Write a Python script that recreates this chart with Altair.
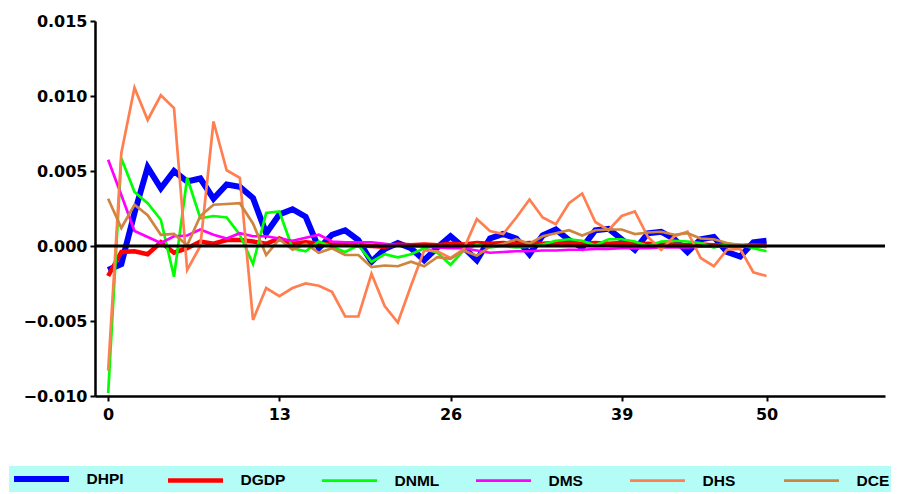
import altair as alt
import pandas as pd

steps = list(range(51))
series_names = ["DHPI", "DGDP", "DNML", "DMS", "DHS", "DCE"]
series_colors = ["#0000ff", "#ff0000", "#00ff00", "#ff00ff", "#ff7f50", "#cd853f"]
series_widths = [6, 4.5, 2.7, 2.7, 2.7, 2.7]

dhpi = [-0.0016, -0.0012, 0.0022, 0.00525, 0.00385, 0.0050, 0.0043, 0.0045, 0.00315, 0.0041,
        0.00395, 0.0032, 0.00085, 0.0021, 0.00245, 0.00195, -0.00015, 0.00075, 0.00105, 0.0004,
        -0.00105, -0.0002, 0.0002, -0.00015, -0.00095, -0.0001, 0.00065, -0.0001, -0.00095, 0.0005,
        0.0008, 0.0005, -0.00055, 0.0007, 0.0011, 0.0004, -0.0001, 0.00105, 0.00115, 0.00045,
        -0.00025, 0.00085, 0.00095, 0.00045, -0.0004, 0.00045, 0.0006, -0.0004, -0.0007, 0.00025,
        0.00035]
dgdp = [-0.0020, -0.0004, -0.00035, -0.00055, 0.00025, -0.00045, -0.00015, 0.0003, 0.00015, 0.0004,
        0.0004, 0.0003, 0.00015, 0.0005, 0.00015, 0.00025, 0.00015, 0.0001, 0.0001, 0.00005,
        0.0, -0.00005, 0.0001, 0.00005, 0.0001, 0.00005, 0.00015, 0.0001, 0.0002, 0.00015,
        0.0002, 0.00015, 0.0002, 0.00015, 0.0002, 0.0002, 0.00015, 0.0002, 0.00015, 0.0002,
        0.0001, 0.00015, 0.0001, 0.0001, 0.00005, 0.0001, 0.00005, 0.00005, 0.0, 0.00005,
        0.0]
dnml = [-0.0098, 0.00585, 0.0036, 0.00285, 0.00175, -0.00205, 0.00455, 0.00185, 0.0020, 0.0019,
        0.00075, -0.0012, 0.0022, 0.0023, -0.00015, -0.00035, 0.0003, -0.00005, -0.0004, 0.00005,
        -0.00105, -0.00055, -0.00075, -0.00055, -0.00015, -0.00045, -0.00125, -0.0003, 0.0001, -0.0001,
        0.0, -0.0001, -0.00005, 0.0001, 0.00035, 0.00045, 0.00035, 0.00005, 0.00045, 0.00045,
        0.0003, 0.0, 0.0003, 0.00035, 0.0003, 0.0002, -0.0001, 0.00015, 0.0001, -0.00015,
        -0.00035]
dms = [0.00575, 0.0034, 0.0010, 0.0006, 0.0002, 0.00065, 0.0007, 0.0011, 0.00075, 0.0005,
       0.00085, 0.00065, 0.00065, 0.0005, 0.00035, 0.00055, 0.00075, 0.0003, 0.00025, 0.00025,
       0.00025, 0.00015, 0.00005, 0.0, -0.00005, -0.0001, -0.00015, -0.00015, -0.0003, -0.00045,
       -0.0004, -0.00035, -0.00035, -0.0003, -0.0003, -0.00025, -0.00025, -0.0002, -0.0002, -0.00015,
       -0.00015, -0.00015, -0.0001, -0.0001, -0.0001, -0.00005, -0.00005, -0.00005, 0.0, 0.0,
       0.0]
dhs = [-0.0083, 0.0062, 0.01055, 0.0084, 0.01005, 0.0092, -0.0016, 0.0, 0.0083, 0.00505,
       0.00455, -0.00493, -0.0028, -0.00335, -0.0028, -0.0025, -0.00265, -0.00305, -0.0047, -0.0047,
       -0.00185, -0.0040, -0.0051, -0.00265, -0.0003, -0.00035, -0.0008, -0.0002, 0.0018, 0.0010,
       0.0008, 0.0019, 0.0031, 0.0019, 0.00145, 0.00285, 0.0035, 0.0016, 0.00105, 0.0020,
       0.0023, 0.0006, -0.00025, 0.00065, 0.00095, -0.0008, -0.00135, -0.00025, -0.0002, -0.00175,
       -0.0020]
dce = [0.00315, 0.0012, 0.00275, 0.00205, 0.00075, 0.0008, 0.00005, 0.0020, 0.00275, 0.0028,
       0.00285, 0.0015, -0.0006, 0.00045, -0.00025, 0.00015, -0.00045, -0.00015, -0.0006, -0.0006,
       -0.0014, -0.0013, -0.00135, -0.00105, -0.00135, -0.00075, -0.00085, -0.0003, -0.00065, -0.00005,
       0.00015, 0.00045, 0.00015, 0.00065, 0.00085, 0.00105, 0.0007, 0.00105, 0.0011, 0.0011,
       0.0008, 0.0009, 0.00095, 0.00075, 0.00085, 0.0005, 0.00045, 0.0002, 0.00005, 0.0,
       -0.00005]

x_ticks = [0, 13, 26, 39, 50]
y_ticks = [-0.01, -0.0075, -0.005, -0.0025, 0.0, 0.0025, 0.005, 0.0075, 0.01, 0.0125, 0.015]

all_values = [dhpi, dgdp, dnml, dms, dhs, dce]
rows = []
for name, vals in zip(series_names, all_values):
    for t, v in zip(steps, vals):
        rows.append({"t": t, "v": v, "series": name})
df = pd.DataFrame(rows)

zero_df = pd.DataFrame({"v": [0.0]})

x_scale = alt.Scale(domain=[-1, 59], nice=False, zero=False)
y_scale = alt.Scale(domain=[-0.01, 0.015], nice=False)

lines = alt.Chart(df).mark_line(clip=True).encode(
    x=alt.X("t:Q", scale=x_scale,
            axis=alt.Axis(values=x_ticks, title=None, grid=False, labelPadding=5)),
    y=alt.Y("v:Q", scale=y_scale,
            axis=alt.Axis(values=y_ticks, title=None, grid=False, labelPadding=3,
                          labelExpr="round(datum.value*10000) % 50 == 0 ? format(datum.value, '.3f') : ''")),
    color=alt.Color("series:N", scale=alt.Scale(domain=series_names, range=series_colors),
                    legend=alt.Legend(title=None)),
    strokeWidth=alt.StrokeWidth("series:N",
                                scale=alt.Scale(type="ordinal", domain=series_names, range=series_widths),
                                legend=alt.Legend(title=None)),
    detail="series:N",
)

zero_rule = alt.Chart(zero_df).mark_rule(color="black", strokeWidth=3).encode(
    y=alt.Y("v:Q", scale=y_scale)
)

chart = alt.layer(lines, zero_rule).properties(
    width=790,
    height=375,
    padding={"left": 87, "top": 13, "right": 6, "bottom": 96},
    autosize=alt.AutoSizeParams(type="none"),
).configure_view(stroke=None).configure_axis(
    labelFont="DejaVu Sans",
    labelFontWeight="bold",
    labelFontSize=16,
    labelColor="black",
    domainColor="black",
    domainWidth=2.5,
    tickColor="black",
    tickWidth=2,
    tickSize=5,
).configure_legend(
    orient="none",
    legendX=-86,
    legendY=445,
    direction="horizontal",
    columns=6,
    gridAlign="all",
    fillColor="#b4fcf6",
    padding=5,
    symbolType="M-5.5,0H5.5",
    symbolSize=100,
    symbolOffset=19.5,
    labelOffset=37,
    columnPadding=27,
    labelFont="Liberation Sans",
    labelFontWeight="bold",
    labelFontSize=15.5,
    labelColor="black",
)

chart.save("out.html", embed_options={"renderer": "svg", "actions": False})
